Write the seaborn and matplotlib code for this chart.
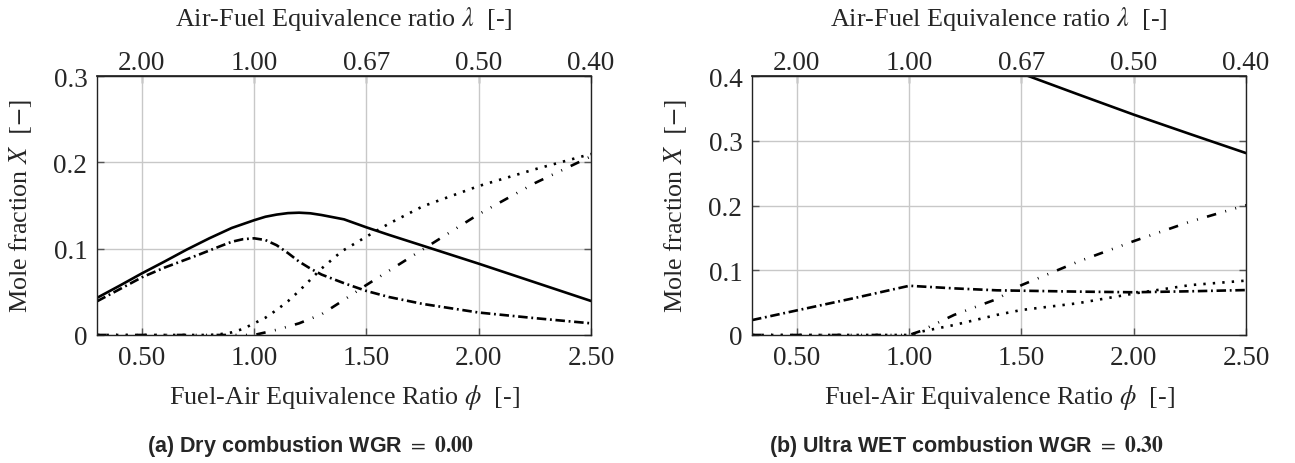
import numpy as np
import pandas as pd
import matplotlib
matplotlib.use("Agg")
import matplotlib.pyplot as plt
import seaborn as sns

# ---------------- data ----------------
# Panel (a): dry combustion, WGR = 0.00
phi_a_solid = [0.3, 0.4, 0.5, 0.6, 0.7, 0.8, 0.9, 1.0, 1.05, 1.1, 1.15, 1.2, 1.25, 1.3, 1.4, 1.5, 1.6, 1.75, 2.0, 2.25, 2.5]
solid_a = [0.043, 0.057, 0.0714, 0.085, 0.099, 0.112, 0.124, 0.133, 0.137, 0.1395, 0.1412, 0.1417, 0.141, 0.139, 0.134, 0.1247, 0.116, 0.1035, 0.0826, 0.061, 0.0394]

phi_a_dd = [0.3, 0.5, 0.6, 0.75, 0.85, 0.9, 0.95, 1.0, 1.05, 1.1, 1.15, 1.2, 1.25, 1.3, 1.4, 1.5, 1.6, 1.75, 2.0, 2.25, 2.5]
dashdot_a = [0.039, 0.0668, 0.078, 0.0927, 0.103, 0.108, 0.111, 0.112, 0.110, 0.104, 0.095, 0.085, 0.077, 0.070, 0.060, 0.051, 0.044, 0.036, 0.026, 0.0195, 0.0135]

phi_a_dot = [0.3, 0.8, 0.85, 0.9, 0.95, 1.0, 1.05, 1.1, 1.15, 1.2, 1.25, 1.3, 1.39, 1.5, 1.6, 1.75, 2.0, 2.25, 2.5]
dotted_a = [0.0, 0.0, 0.001, 0.003, 0.007, 0.0135, 0.020, 0.029, 0.039, 0.051, 0.064, 0.077, 0.097, 0.114, 0.129, 0.149, 0.1726, 0.192, 0.2097]

phi_a_ddd = [0.3, 1.0, 1.05, 1.1, 1.2, 1.3, 1.39, 1.5, 1.75, 2.0, 2.25, 2.5]
dashdotdot_a = [0.0, 0.0, 0.003, 0.006, 0.0135, 0.024, 0.039, 0.058, 0.099, 0.140, 0.176, 0.207]

# Panel (b): ultra wet combustion, WGR = 0.30
phi_b = [0.3, 0.5, 0.75, 1.0, 1.05, 1.2, 1.39, 1.5, 1.75, 2.0, 2.25, 2.5]
dashdot_b = [0.023, 0.038, 0.0566, 0.076, 0.075, 0.072, 0.069, 0.0684, 0.067, 0.066, 0.0675, 0.0694]
dotted_b = [0.0, 0.0, 0.0, 0.0, 0.005, 0.0154, 0.031, 0.0386, 0.049, 0.064, 0.077, 0.084]
dashdotdot_b = [0.0, 0.0, 0.0, 0.0, 0.006, 0.031, 0.0555, 0.077, 0.113, 0.145, 0.175, 0.2005]
phi_b_solid = [1.5, 1.75, 2.0, 2.25, 2.5]
solid_b = [0.404, 0.372, 0.3404, 0.3105, 0.281]

# ticks / labels
phi_ticks = [0.5, 1.0, 1.5, 2.0, 2.5]
phi_ticklabels = ["0.50", "1.00", "1.50", "2.00", "2.50"]
lambda_ticklabels = ["2.00", "1.00", "0.67", "0.50", "0.40"]
yticks_a = [0, 0.1, 0.2, 0.3]
yticklabels_a = ["0", "0.1", "0.2", "0.3"]
yticks_b = [0, 0.1, 0.2, 0.3, 0.4]
yticklabels_b = ["0", "0.1", "0.2", "0.3", "0.4"]
subtitles = [r"(a) Dry combustion WGR $=$ $\mathbf{0.00}$",
             r"(b) Ultra WET combustion WGR $=$ $\mathbf{0.30}$"]

# ---------------- style ----------------
sns.set_theme(style="white")
plt.rcParams["font.family"] = ["Liberation Serif", "DejaVu Serif"]
plt.rcParams["mathtext.fontset"] = "stix"

LW = 1.9
styles = {
    "solid": dict(linestyle="-"),
    "dotted": dict(linestyle=(0, (0.9, 2.7))),
    "dashdot": dict(linestyle=(0, (3.6, 1.4, 0.7, 1.4))),
    "dashdotdot": dict(linestyle=(0, (3.6, 3.6, 0.35, 3.6, 0.35, 3.6))),
}

fig = plt.figure(figsize=(12.95, 4.64), dpi=100)
axA = fig.add_axes([0.0749, 0.2759, 0.3815, 0.558])
axB = fig.add_axes([0.5807, 0.2759, 0.3815, 0.558])


def draw(ax, series, ylim, yticks, yticklabels):
    for x, y, st in series:
        df = pd.DataFrame({"phi": x, "X": y})
        sns.lineplot(data=df, x="phi", y="X", ax=ax, color="black",
                     linewidth=LW, sort=False, estimator=None,
                     dash_capstyle="butt", **styles[st])
    ax.set_xlim(0.3, 2.5)
    ax.set_ylim(*ylim)
    ax.set_xticks(phi_ticks)
    ax.set_xticklabels(phi_ticklabels)
    ax.set_yticks(yticks)
    ax.set_yticklabels(yticklabels)
    ax.grid(True, color="#c8c8c8", linewidth=1.0)
    ax.set_axisbelow(True)
    for sp in ax.spines.values():
        sp.set_visible(True)
        sp.set_color("#222222")
        sp.set_linewidth(1.0)
    ax.tick_params(axis="both", which="both", direction="in", length=5,
                   width=1.0, color="#555555", labelsize=19.5,
                   top=False, right=True, left=True, bottom=True, pad=7)
    ax.set_xlabel(r"Fuel-Air Equivalence Ratio $\phi$  [-]", fontsize=18.8)
    ax.set_ylabel(r"Mole fraction $X$  $[-]$", fontsize=18.8)
    ax.xaxis.set_label_coords(0.5, -0.18)
    ax.yaxis.set_label_coords(-0.128, 0.5)

    sec = ax.secondary_xaxis("top")
    sec.set_xticks(phi_ticks)
    sec.set_xticklabels(lambda_ticklabels)
    sec.tick_params(direction="in", length=5, width=1.0, color="#555555",
                    labelsize=19.5, pad=1)
    sec.set_xlabel(r"Air-Fuel Equivalence ratio $\lambda$  [-]", fontsize=18.8,
                   labelpad=18)


draw(axA,
     [(phi_a_solid, solid_a, "solid"), (phi_a_dd, dashdot_a, "dashdot"),
      (phi_a_dot, dotted_a, "dotted"), (phi_a_ddd, dashdotdot_a, "dashdotdot")],
     (0, 0.3), yticks_a, yticklabels_a)
draw(axB,
     [(phi_b_solid, solid_b, "solid"), (phi_b, dashdot_b, "dashdot"),
      (phi_b, dotted_b, "dotted"), (phi_b, dashdotdot_b, "dashdotdot")],
     (0, 0.4), yticks_b, yticklabels_b)

for xc, txt in [(310 / 1295, subtitles[0]), (966.6 / 1295, subtitles[1])]:
    fig.text(xc, 1 - 447 / 464, txt, ha="center", va="center",
             fontsize=15.5, fontweight="bold",
             family=["Liberation Sans", "DejaVu Sans"])

fig.savefig("out.png", dpi=100)
